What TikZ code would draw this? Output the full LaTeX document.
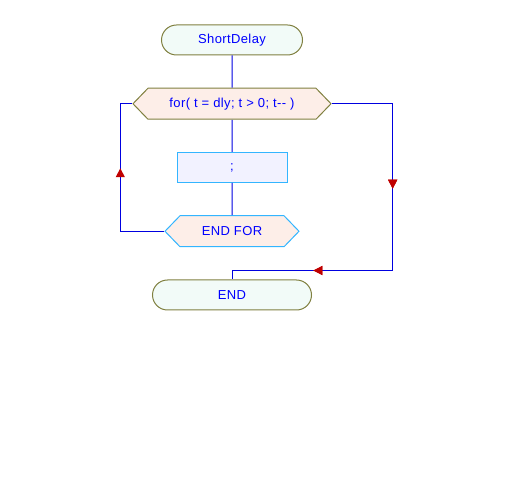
\documentclass[tikz,border=0pt]{standalone}
\usepackage{fontspec}
\setmainfont[LetterSpace=3]{Liberation Sans}
\usetikzlibrary{shapes.symbols,decorations.markings,arrows.meta}

\definecolor{termfill}{HTML}{F2FBF8}
\definecolor{olive}{HTML}{808040}
\definecolor{loopfill}{HTML}{FDEEE8}
\definecolor{stmtfill}{HTML}{F2F2FF}
\definecolor{skyline}{HTML}{33B5FF}
\definecolor{flowblue}{HTML}{0000E0}
\definecolor{tipred}{HTML}{C00000}

\begin{document}
\begin{tikzpicture}[x=1pt, y=1pt, node distance=63.75pt,
    font=\fontsize{13}{15}\selectfont, text=blue, line width=1pt,
    term/.style={rectangle, draw=olive, fill=termfill, rounded corners=15pt, minimum width=141pt, minimum height=30pt},
    loophead/.style={signal, signal to=west and east, signal pointer angle=92, draw=olive, fill=loopfill, minimum width=198pt, minimum height=31pt},
    loopend/.style={signal, signal to=west and east, signal pointer angle=92, draw=skyline, fill=loopfill, minimum width=134pt, minimum height=31pt},
    stmt/.style={rectangle, draw=skyline, fill=stmtfill, minimum width=110pt, minimum height=30pt},
    flow/.style={draw=flowblue, line width=1pt},
    tip/.style={decoration={markings, mark=at position #1 with {\arrow[tipred]{Triangle[width=9pt,length=9pt]}}}, postaction={decorate}}]
  \useasboundingbox (0,0) rectangle (512,480);

  \node (start) [term] at (232,440) {ShortDelay};
  \node (forloop) [loophead, below of=start] {for( t = dly; t > 0; t-{}- )};
  \node (body) [stmt, below of=forloop] {;};
  \node (endfor) [loopend, below of=body] {END FOR};
  \node (stop) [term, minimum width=159pt, below of=endfor] {END};

  \draw[flow] (start) -- (forloop);
  \draw[flow] (forloop) -- (body);
  \draw[flow] (body) -- (endfor);

  % back to the loop head
  \draw[flow, tip=107pt] (endfor.west) -- ++(-44,0) |- (forloop.west);

  % leaving the loop
  \coordinate (join) at ([yshift=9pt]stop.north);
  \draw[flow, tip=146pt, tip=307pt] (forloop.east) -- ++(61,0) |- (join) -- (stop.north);
\end{tikzpicture}
\end{document}
